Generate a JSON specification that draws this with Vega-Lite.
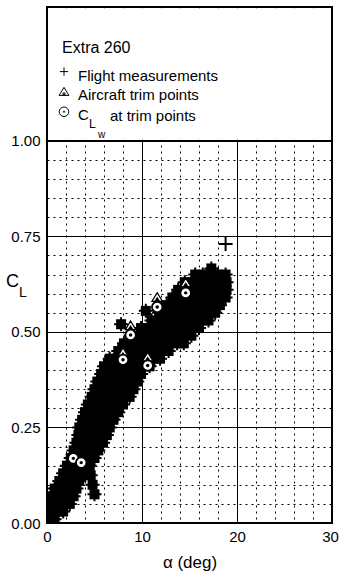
{
  "$schema": "https://vega.github.io/schema/vega-lite/v6.json",
  "width": 285,
  "height": 516,
  "autosize": "none",
  "padding": {"left": 47, "top": 7, "right": 7, "bottom": 54},
  "background": "white",
  "config": {
    "view": {"stroke": "black", "strokeWidth": 2},
    "font": "Liberation Sans",
    "axis": {"labelOverlap": false, "labelBound": false, "labelFlush": false, "ticks": false, "domain": false}
  },
  "datasets": {
    "flight": [
      {"alpha": 0.3, "CL": 0.01}, {"alpha": 0.8, "CL": 0.01},
      {"alpha": 0.4, "CL": 0.03}, {"alpha": 1.0, "CL": 0.03}, {"alpha": 1.7, "CL": 0.03},
      {"alpha": 0.5, "CL": 0.05}, {"alpha": 1.2, "CL": 0.05}, {"alpha": 1.9, "CL": 0.05}, {"alpha": 2.4, "CL": 0.05},
      {"alpha": 0.5, "CL": 0.07}, {"alpha": 1.3, "CL": 0.07}, {"alpha": 2.1, "CL": 0.07}, {"alpha": 2.8, "CL": 0.07},
      {"alpha": 0.8, "CL": 0.09}, {"alpha": 1.6, "CL": 0.09}, {"alpha": 2.4, "CL": 0.09}, {"alpha": 3.1, "CL": 0.09},
      {"alpha": 1.3, "CL": 0.11}, {"alpha": 2.0, "CL": 0.11}, {"alpha": 2.7, "CL": 0.11}, {"alpha": 3.4, "CL": 0.11},
      {"alpha": 1.7, "CL": 0.13}, {"alpha": 2.5, "CL": 0.13}, {"alpha": 3.3, "CL": 0.13}, {"alpha": 4.0, "CL": 0.13},
      {"alpha": 2.1, "CL": 0.15}, {"alpha": 2.9, "CL": 0.15}, {"alpha": 3.7, "CL": 0.15}, {"alpha": 4.5, "CL": 0.15},
      {"alpha": 2.5, "CL": 0.17}, {"alpha": 3.3, "CL": 0.17}, {"alpha": 4.1, "CL": 0.17}, {"alpha": 5.0, "CL": 0.17},
      {"alpha": 2.8, "CL": 0.19}, {"alpha": 3.7, "CL": 0.19}, {"alpha": 4.5, "CL": 0.19}, {"alpha": 5.4, "CL": 0.19},
      {"alpha": 3.1, "CL": 0.21}, {"alpha": 3.9, "CL": 0.21}, {"alpha": 4.7, "CL": 0.21}, {"alpha": 5.4, "CL": 0.21}, {"alpha": 5.9, "CL": 0.21},
      {"alpha": 3.3, "CL": 0.23}, {"alpha": 4.1, "CL": 0.23}, {"alpha": 4.9, "CL": 0.23}, {"alpha": 5.6, "CL": 0.23}, {"alpha": 6.3, "CL": 0.23},
      {"alpha": 3.4, "CL": 0.25}, {"alpha": 4.2, "CL": 0.25}, {"alpha": 5.0, "CL": 0.25}, {"alpha": 5.8, "CL": 0.25}, {"alpha": 6.6, "CL": 0.25},
      {"alpha": 3.7, "CL": 0.27}, {"alpha": 4.5, "CL": 0.27}, {"alpha": 5.3, "CL": 0.27}, {"alpha": 6.1, "CL": 0.27}, {"alpha": 7.0, "CL": 0.27},
      {"alpha": 4.0, "CL": 0.29}, {"alpha": 4.7, "CL": 0.29}, {"alpha": 5.4, "CL": 0.29}, {"alpha": 6.1, "CL": 0.29}, {"alpha": 6.8, "CL": 0.29}, {"alpha": 7.5, "CL": 0.29},
      {"alpha": 4.3, "CL": 0.31}, {"alpha": 5.0, "CL": 0.31}, {"alpha": 5.8, "CL": 0.31}, {"alpha": 6.5, "CL": 0.31}, {"alpha": 7.3, "CL": 0.31}, {"alpha": 8.0, "CL": 0.31},
      {"alpha": 4.7, "CL": 0.33}, {"alpha": 5.5, "CL": 0.33}, {"alpha": 6.3, "CL": 0.33}, {"alpha": 7.1, "CL": 0.33}, {"alpha": 7.9, "CL": 0.33}, {"alpha": 8.7, "CL": 0.33},
      {"alpha": 5.0, "CL": 0.35}, {"alpha": 5.8, "CL": 0.35}, {"alpha": 6.6, "CL": 0.35}, {"alpha": 7.4, "CL": 0.35}, {"alpha": 8.2, "CL": 0.35}, {"alpha": 9.1, "CL": 0.35},
      {"alpha": 5.3, "CL": 0.37}, {"alpha": 6.1, "CL": 0.37}, {"alpha": 6.9, "CL": 0.37}, {"alpha": 7.7, "CL": 0.37}, {"alpha": 8.6, "CL": 0.37}, {"alpha": 9.5, "CL": 0.37},
      {"alpha": 5.7, "CL": 0.39}, {"alpha": 6.5, "CL": 0.39}, {"alpha": 7.3, "CL": 0.39}, {"alpha": 8.1, "CL": 0.39}, {"alpha": 8.9, "CL": 0.39}, {"alpha": 9.9, "CL": 0.39},
      {"alpha": 6.0, "CL": 0.41}, {"alpha": 6.8, "CL": 0.41}, {"alpha": 7.6, "CL": 0.41}, {"alpha": 8.4, "CL": 0.41}, {"alpha": 9.2, "CL": 0.41}, {"alpha": 10.0, "CL": 0.41}, {"alpha": 10.8, "CL": 0.41},
      {"alpha": 6.6, "CL": 0.43}, {"alpha": 7.4, "CL": 0.43}, {"alpha": 8.2, "CL": 0.43}, {"alpha": 9.0, "CL": 0.43}, {"alpha": 9.8, "CL": 0.43}, {"alpha": 10.6, "CL": 0.43}, {"alpha": 11.3, "CL": 0.43}, {"alpha": 11.9, "CL": 0.43},
      {"alpha": 7.5, "CL": 0.45}, {"alpha": 8.3, "CL": 0.45}, {"alpha": 9.1, "CL": 0.45}, {"alpha": 9.9, "CL": 0.45}, {"alpha": 10.6, "CL": 0.45}, {"alpha": 11.4, "CL": 0.45}, {"alpha": 12.1, "CL": 0.45}, {"alpha": 12.8, "CL": 0.45},
      {"alpha": 8.1, "CL": 0.47}, {"alpha": 8.9, "CL": 0.47}, {"alpha": 9.7, "CL": 0.47}, {"alpha": 10.5, "CL": 0.47}, {"alpha": 11.3, "CL": 0.47}, {"alpha": 12.1, "CL": 0.47}, {"alpha": 12.9, "CL": 0.47}, {"alpha": 13.7, "CL": 0.47}, {"alpha": 14.4, "CL": 0.47},
      {"alpha": 8.8, "CL": 0.49}, {"alpha": 9.6, "CL": 0.49}, {"alpha": 10.4, "CL": 0.49}, {"alpha": 11.2, "CL": 0.49}, {"alpha": 12.0, "CL": 0.49}, {"alpha": 12.8, "CL": 0.49}, {"alpha": 13.6, "CL": 0.49}, {"alpha": 14.4, "CL": 0.49}, {"alpha": 15.2, "CL": 0.49},
      {"alpha": 9.9, "CL": 0.51}, {"alpha": 10.7, "CL": 0.51}, {"alpha": 11.5, "CL": 0.51}, {"alpha": 12.3, "CL": 0.51}, {"alpha": 13.1, "CL": 0.51}, {"alpha": 13.9, "CL": 0.51}, {"alpha": 14.6, "CL": 0.51}, {"alpha": 15.3, "CL": 0.51}, {"alpha": 16.0, "CL": 0.51},
      {"alpha": 11.0, "CL": 0.53}, {"alpha": 11.8, "CL": 0.53}, {"alpha": 12.6, "CL": 0.53}, {"alpha": 13.4, "CL": 0.53}, {"alpha": 14.2, "CL": 0.53}, {"alpha": 15.0, "CL": 0.53}, {"alpha": 15.7, "CL": 0.53}, {"alpha": 16.4, "CL": 0.53}, {"alpha": 17.0, "CL": 0.53},
      {"alpha": 11.8, "CL": 0.55}, {"alpha": 12.6, "CL": 0.55}, {"alpha": 13.4, "CL": 0.55}, {"alpha": 14.2, "CL": 0.55}, {"alpha": 15.0, "CL": 0.55}, {"alpha": 15.7, "CL": 0.55}, {"alpha": 16.4, "CL": 0.55}, {"alpha": 17.1, "CL": 0.55}, {"alpha": 17.7, "CL": 0.55},
      {"alpha": 12.6, "CL": 0.57}, {"alpha": 13.4, "CL": 0.57}, {"alpha": 14.2, "CL": 0.57}, {"alpha": 15.0, "CL": 0.57}, {"alpha": 15.8, "CL": 0.57}, {"alpha": 16.6, "CL": 0.57}, {"alpha": 17.4, "CL": 0.57}, {"alpha": 18.2, "CL": 0.57},
      {"alpha": 13.2, "CL": 0.59}, {"alpha": 14.0, "CL": 0.59}, {"alpha": 14.8, "CL": 0.59}, {"alpha": 15.6, "CL": 0.59}, {"alpha": 16.4, "CL": 0.59}, {"alpha": 17.2, "CL": 0.59}, {"alpha": 18.0, "CL": 0.59}, {"alpha": 18.8, "CL": 0.59},
      {"alpha": 13.8, "CL": 0.61}, {"alpha": 14.6, "CL": 0.61}, {"alpha": 15.4, "CL": 0.61}, {"alpha": 16.2, "CL": 0.61}, {"alpha": 17.0, "CL": 0.61}, {"alpha": 17.8, "CL": 0.61}, {"alpha": 18.4, "CL": 0.61}, {"alpha": 18.9, "CL": 0.61},
      {"alpha": 14.5, "CL": 0.63}, {"alpha": 15.3, "CL": 0.63}, {"alpha": 16.1, "CL": 0.63}, {"alpha": 16.9, "CL": 0.63}, {"alpha": 17.7, "CL": 0.63}, {"alpha": 18.4, "CL": 0.63}, {"alpha": 18.9, "CL": 0.63},
      {"alpha": 15.6, "CL": 0.65}, {"alpha": 16.4, "CL": 0.65}, {"alpha": 17.2, "CL": 0.65}, {"alpha": 18.0, "CL": 0.65}, {"alpha": 18.8, "CL": 0.65},
      {"alpha": 5.0, "CL": 0.075}, {"alpha": 4.8, "CL": 0.1}, {"alpha": 4.6, "CL": 0.125},
      {"alpha": 7.8, "CL": 0.52}, {"alpha": 10.4, "CL": 0.555}, {"alpha": 17.3, "CL": 0.666},
      {"alpha": 18.8, "CL": 0.73}
    ],
    "trim": [
      {"alpha": 8.0, "CL": 0.446}, {"alpha": 8.8, "CL": 0.516}, {"alpha": 10.6, "CL": 0.434},
      {"alpha": 11.6, "CL": 0.59}, {"alpha": 14.6, "CL": 0.628}
    ],
    "clw": [
      {"alpha": 2.77, "CL": 0.169}, {"alpha": 3.6, "CL": 0.158}, {"alpha": 8.0, "CL": 0.427},
      {"alpha": 8.8, "CL": 0.492}, {"alpha": 10.6, "CL": 0.412}, {"alpha": 11.6, "CL": 0.565},
      {"alpha": 14.6, "CL": 0.602}
    ],
    "one": [{"k": 1}]
  },
  "encoding": {
    "x": {
      "type": "quantitative",
      "scale": {"domain": [0, 30], "nice": false, "zero": false},
      "axis": {
        "values": [0, 2, 4, 6, 8, 10, 12, 14, 16, 18, 20, 22, 24, 26, 28, 30],
        "labelExpr": "datum.value % 10 === 0 ? datum.label : ''",
        "ticks": false, "domain": false, "grid": true,
        "gridColor": "black", "gridOpacity": 1, "gridWidth": 1,
        "gridDash": {"condition": {"test": "datum.value % 10 === 0", "value": []}, "value": [2, 4]},
        "labelFont": "Liberation Sans", "labelFontSize": 15, "labelColor": "black", "labelPadding": 6,
        "labelOffset": {"condition": {"test": "datum.value === 30", "value": -2}, "value": 0},
        "labelOverlap": false, "labelBound": false, "labelFlush": false,
        "title": "α (deg)", "titleFont": "Liberation Sans", "titleFontSize": 17, "titleFontWeight": "normal",
        "titleColor": "black", "titleBaseline": "alphabetic", "titleY": 44
      }
    },
    "y": {
      "type": "quantitative",
      "scale": {"domain": [0, 1.35], "nice": false, "zero": false},
      "axis": {
        "values": [0, 0.05, 0.1, 0.15, 0.2, 0.25, 0.3, 0.35, 0.4, 0.45, 0.5, 0.55, 0.6, 0.65, 0.7, 0.75, 0.8, 0.85, 0.9, 0.95, 1.0],
        "labelExpr": "abs(datum.value * 4 - round(datum.value * 4)) < 0.001 ? format(datum.value, '.2f') : ''",
        "ticks": false, "domain": false, "grid": true,
        "gridColor": "black", "gridOpacity": 1, "gridWidth": 1,
        "gridDash": {"condition": {"test": "abs(datum.value * 4 - round(datum.value * 4)) < 0.001", "value": []}, "value": [2, 4]},
        "labelFont": "Liberation Sans", "labelFontSize": 15, "labelColor": "black", "labelPadding": 7,
        "labelOverlap": false, "labelBound": false, "labelFlush": false,
        "title": null
      }
    }
  },
  "layer": [
    {
      "data": {"name": "flight"},
      "mark": {"type": "point", "shape": "M-1,0H1M0,-1V1", "size": 196, "filled": false, "stroke": "black", "strokeWidth": 2, "opacity": 1, "clip": true},
      "encoding": {"x": {"field": "alpha"}, "y": {"field": "CL"}}
    },
    {
      "data": {"name": "flight"},
      "transform": [{"filter": "datum.CL < 0.7"}],
      "mark": {"type": "point", "shape": "square", "size": 100, "filled": true, "color": "black", "opacity": 1, "clip": true},
      "encoding": {"x": {"field": "alpha"}, "y": {"field": "CL"}}
    },
    {
      "data": {"name": "one"},
      "mark": {"type": "rect", "fill": "white", "strokeWidth": 0, "opacity": 1},
      "encoding": {"x": {"datum": 0.12}, "x2": {"datum": 29.88}, "y": {"datum": 1.003}, "y2": {"datum": 1.347}}
    },
    {
      "data": {"name": "one"},
      "mark": {"type": "rule", "color": "black", "strokeWidth": 1.5},
      "encoding": {"x": {"datum": 0}, "x2": {"datum": 30}, "y": {"datum": 1}}
    },
    {
      "data": {"name": "trim"},
      "mark": {"type": "point", "shape": "M0,-1L1.1,0.8L-1.1,0.8Z M0,0.1L0.3,0.55L-0.3,0.55Z", "size": 90, "filled": true, "fill": "white", "stroke": "black", "strokeWidth": 1.3, "opacity": 1},
      "encoding": {"x": {"field": "alpha"}, "y": {"field": "CL"}}
    },
    {
      "data": {"name": "clw"},
      "mark": {"type": "point", "shape": "M-1,0A1,1,0,1,1,1,0A1,1,0,1,1,-1,0Z M-0.15,0A0.15,0.15,0,1,1,0.15,0A0.15,0.15,0,1,1,-0.15,0Z", "size": 110, "filled": true, "fill": "white", "stroke": "black", "strokeWidth": 1.8, "opacity": 1},
      "encoding": {"x": {"field": "alpha"}, "y": {"field": "CL"}}
    },
    {
      "data": {"name": "one"},
      "mark": {"type": "point", "shape": "M-1,0H1M0,-1V1", "size": 70, "filled": false, "stroke": "black", "strokeWidth": 1, "opacity": 1},
      "encoding": {"x": {"datum": 1.79}, "y": {"datum": 1.181}}
    },
    {
      "data": {"name": "one"},
      "mark": {"type": "point", "shape": "M0,-1L1.1,0.8L-1.1,0.8Z M0,0.1L0.3,0.55L-0.3,0.55Z", "size": 80, "filled": true, "fill": "white", "stroke": "black", "strokeWidth": 1, "opacity": 1},
      "encoding": {"x": {"datum": 1.79}, "y": {"datum": 1.128}}
    },
    {
      "data": {"name": "one"},
      "mark": {"type": "point", "shape": "M-1,0A1,1,0,1,1,1,0A1,1,0,1,1,-1,0Z M-0.15,0A0.15,0.15,0,1,1,0.15,0A0.15,0.15,0,1,1,-0.15,0Z", "size": 90, "filled": true, "fill": "white", "stroke": "black", "strokeWidth": 1, "opacity": 1},
      "encoding": {"x": {"datum": 1.79}, "y": {"datum": 1.076}}
    },
    {
      "data": {"name": "one"},
      "mark": {"type": "text", "align": "left", "baseline": "alphabetic", "font": "Liberation Sans", "fontSize": 16, "color": "black"},
      "encoding": {"x": {"datum": 1.58}, "y": {"datum": 1.2296}, "text": {"value": "Extra 260"}}
    },
    {
      "data": {"name": "one"},
      "mark": {"type": "text", "align": "left", "baseline": "alphabetic", "font": "Liberation Sans", "fontSize": 15, "color": "black"},
      "encoding": {"x": {"datum": 3.26}, "y": {"datum": 1.157}, "text": {"value": "Flight measurements"}}
    },
    {
      "data": {"name": "one"},
      "mark": {"type": "text", "align": "left", "baseline": "alphabetic", "font": "Liberation Sans", "fontSize": 15, "color": "black"},
      "encoding": {"x": {"datum": 3.26}, "y": {"datum": 1.1055}, "text": {"value": "Aircraft trim points"}}
    },
    {
      "data": {"name": "one"},
      "mark": {"type": "text", "align": "left", "baseline": "alphabetic", "font": "Liberation Sans", "fontSize": 15, "color": "black"},
      "encoding": {"x": {"datum": 3.26}, "y": {"datum": 1.0542}, "text": {"value": "C"}}
    },
    {
      "data": {"name": "one"},
      "mark": {"type": "text", "align": "left", "baseline": "alphabetic", "font": "Liberation Sans", "fontSize": 12, "color": "black"},
      "encoding": {"x": {"datum": 4.42}, "y": {"datum": 1.034}, "text": {"value": "L"}}
    },
    {
      "data": {"name": "one"},
      "mark": {"type": "text", "align": "left", "baseline": "alphabetic", "font": "Liberation Sans", "fontSize": 10, "color": "black"},
      "encoding": {"x": {"datum": 5.37}, "y": {"datum": 1.0079}, "text": {"value": "w"}}
    },
    {
      "data": {"name": "one"},
      "mark": {"type": "text", "align": "left", "baseline": "alphabetic", "font": "Liberation Sans", "fontSize": 15, "color": "black"},
      "encoding": {"x": {"datum": 6.63}, "y": {"datum": 1.0505}, "text": {"value": "at trim points"}}
    },
    {
      "data": {"name": "one"},
      "mark": {"type": "text", "align": "left", "baseline": "alphabetic", "font": "Liberation Sans", "fontSize": 18, "color": "black"},
      "encoding": {"x": {"datum": -4.32}, "y": {"datum": 0.618}, "text": {"value": "C"}}
    },
    {
      "data": {"name": "one"},
      "mark": {"type": "text", "align": "left", "baseline": "alphabetic", "font": "Liberation Sans", "fontSize": 14, "color": "black"},
      "encoding": {"x": {"datum": -2.95}, "y": {"datum": 0.592}, "text": {"value": "L"}}
    }
  ]
}
